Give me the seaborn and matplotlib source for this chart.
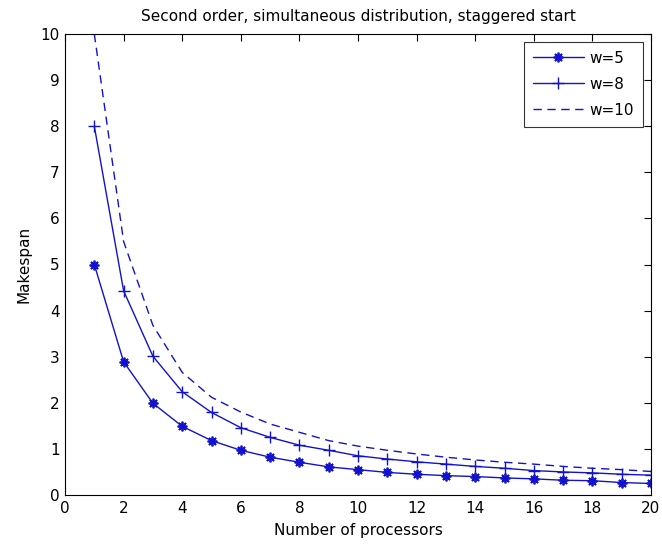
import matplotlib
matplotlib.use("Agg")
import matplotlib.pyplot as plt
import seaborn as sns
import pandas as pd

processors = list(range(1, 21))
w5 = [5.0, 2.89, 1.99, 1.49, 1.18, 0.97, 0.82, 0.71, 0.61, 0.55,
      0.49, 0.45, 0.42, 0.40, 0.37, 0.35, 0.32, 0.31, 0.27, 0.25]
w8 = [8.0, 4.43, 3.01, 2.24, 1.79, 1.46, 1.25, 1.08, 0.97, 0.85,
      0.78, 0.72, 0.67, 0.62, 0.58, 0.53, 0.50, 0.48, 0.45, 0.43]
w10 = [10.0, 5.5, 3.68, 2.66, 2.12, 1.80, 1.54, 1.36, 1.18, 1.06,
       0.97, 0.89, 0.82, 0.76, 0.71, 0.67, 0.62, 0.58, 0.55, 0.51]
labels = ["w=5", "w=8", "w=10"]
title = "Second order, simultaneous distribution, staggered start"
xlabel = "Number of processors"
ylabel = "Makespan"
xticks = list(range(0, 21, 2))
yticks = list(range(0, 11))

sns.set_style("white")
plt.rcParams['font.family'] = ['DejaVu Sans']
plt.rcParams['text.color'] = 'black'
plt.rcParams['axes.labelcolor'] = 'black'
plt.rcParams['xtick.color'] = 'black'
plt.rcParams['ytick.color'] = 'black'

fig = plt.figure(figsize=(6.62, 5.51), dpi=100)
ax = fig.add_axes([65/662, 1-495/551, (651-65)/662, (495-34)/551])

color = "#1212cc"
styles = [dict(marker=(8, 2, 0), linestyle="-", markersize=7, markeredgewidth=1.3),
          dict(marker="+", linestyle="-", markersize=9, markeredgewidth=1.0),
          dict(marker=None, linestyle=(0, (6, 4)))]
for vals, lab, st in zip([w5, w8, w10], labels, styles):
    df = pd.DataFrame({"x": processors, "y": vals})
    sns.lineplot(data=df, x="x", y="y", ax=ax, color=color, linewidth=1.0,
                 label=lab, markeredgecolor=color, **st)

fs = 11
ax.set_xlim(0, 20)
ax.set_ylim(0, 10)
ax.set_xticks(xticks)
ax.set_yticks(yticks)
ax.tick_params(direction="in", top=True, right=True, length=5, labelsize=fs, width=0.8, pad=4,
               colors="black")
for s in ax.spines.values():
    s.set_linewidth(0.8)
    s.set_color("black")
ax.set_title(title, fontsize=fs, pad=9, color="black")
ax.set_xlabel(xlabel, fontsize=fs, labelpad=5, color="black")
ax.set_ylabel(ylabel, fontsize=fs, labelpad=6, color="black")
leg = ax.legend(loc="upper right", fontsize=fs, handlelength=3.3, frameon=True,
                fancybox=False, edgecolor="black", borderaxespad=0.5,
                labelspacing=0.72, handletextpad=0.4, borderpad=0.6)
leg.get_frame().set_linewidth(0.8)
for t in leg.get_texts():
    t.set_color("black")

fig.savefig("out.png", dpi=100)
